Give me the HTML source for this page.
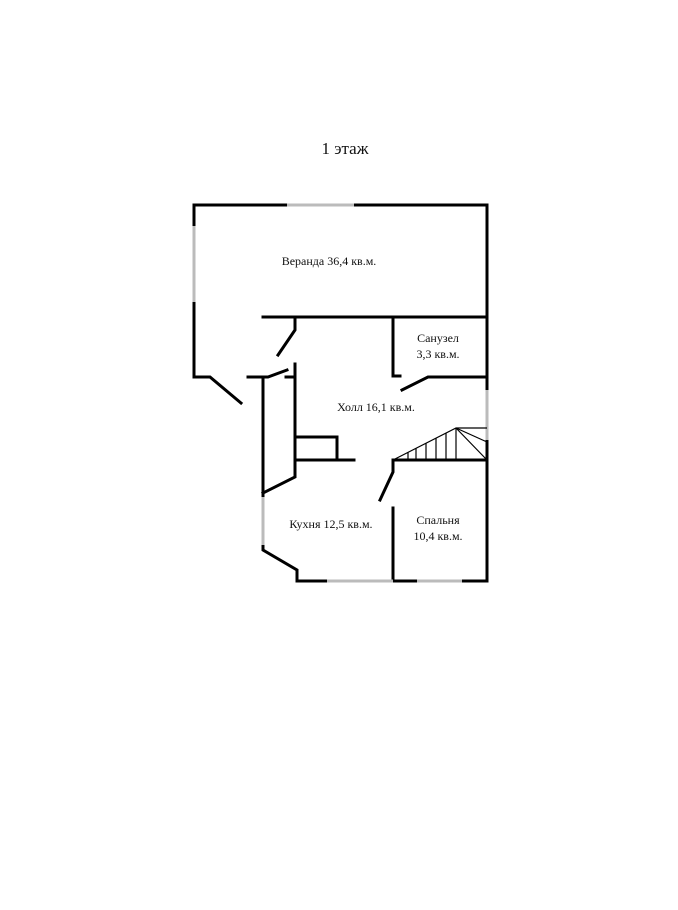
<!DOCTYPE html>
<html><head><meta charset="utf-8"><style>
html,body{margin:0;padding:0;background:#fff;}
svg{display:block;}
text{font-family:"Liberation Serif",serif;fill:#111;}
</style></head><body>
<svg width="678" height="910" viewBox="0 0 678 910" xmlns="http://www.w3.org/2000/svg">
<text x="345" y="154" font-size="17" text-anchor="middle">1 этаж</text>
<g stroke="#000" stroke-width="3" fill="none" stroke-linecap="square">
<path d="M194 226 V205 H287"/>
<path d="M354 205 H487 V390"/>
<path d="M194 302 V377 H210 L241 403"/>
<path d="M263 317 H487"/>
<path d="M295 318 V330 L278 355"/>
<path d="M393 317 V376 H400"/>
<path d="M402 390 L428 377 H487"/>
<path d="M248 377 H268 L287 370"/>
<path d="M286 377 H295"/>
<path d="M295 364 V477 L263 493"/>
<path d="M263 377 V497"/>
<path d="M263 545 V550 L297 570 V581 H327"/>
<path d="M393 581 H417"/>
<path d="M462 581 H487 V440"/>
<path d="M393 460 V472 L380 500"/>
<path d="M393 508 V581"/>
<path d="M295 437 H337 V460"/>
<path d="M295 460 H354"/>
<path d="M393 460 H487"/>
</g>
<g stroke="#bbb" stroke-width="3" fill="none">
<path d="M287 205 H354"/>
<path d="M194 226 V302"/>
<path d="M487 390 V440"/>
<path d="M263 497 V545"/>
<path d="M327 581 H393"/>
<path d="M417 581 H462"/>
</g>
<g stroke="#000" stroke-width="1.2" fill="none">
<path d="M393 460 L456 428 H487"/>
<path d="M456 428 L487 460"/>
<path d="M456 428 L487 442"/>
<path d="M456 428 V460"/>
<path d="M446 433 V460"/>
<path d="M436 438 V460"/>
<path d="M426 443 V460"/>
<path d="M416 448 V460"/>
<path d="M408 452 V460"/>
</g>
<g font-size="12">
<text x="329" y="265" text-anchor="middle">Веранда 36,4 кв.м.</text>
<text x="438" y="342" text-anchor="middle">Санузел</text>
<text x="438" y="358" text-anchor="middle">3,3 кв.м.</text>
<text x="376" y="411" text-anchor="middle">Холл 16,1 кв.м.</text>
<text x="331" y="528" text-anchor="middle">Кухня 12,5 кв.м.</text>
<text x="438" y="524" text-anchor="middle">Спальня</text>
<text x="438" y="540" text-anchor="middle">10,4 кв.м.</text>
</g>
</svg>
</body></html>
